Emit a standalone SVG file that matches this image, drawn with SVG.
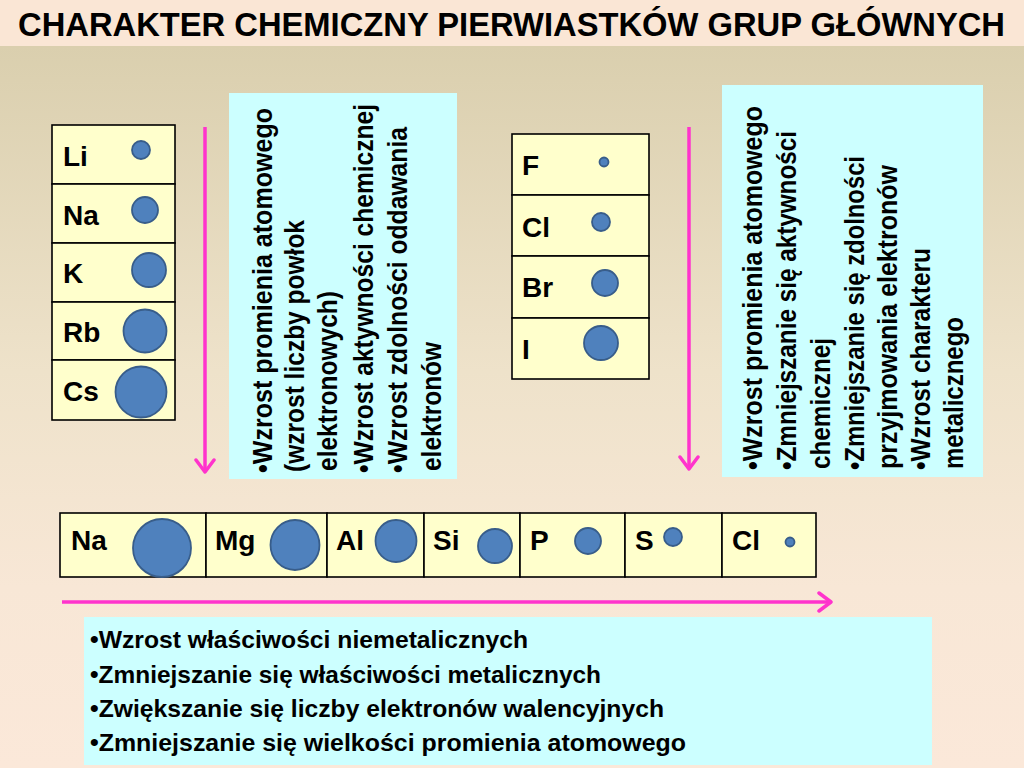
<svg xmlns="http://www.w3.org/2000/svg" width="1024" height="768" viewBox="0 0 1024 768">
<style>
text{font-family:"Liberation Sans",Arial,sans-serif;font-weight:bold;fill:#000}
.title{font-size:33px}
.lab{font-size:28px}
.vt{font-size:27px}
.bt{font-size:24.5px}
.cell{fill:#ffffcc;stroke:#000;stroke-width:1.6}
.atom{fill:#4f81bd;stroke:#385d8a;stroke-width:1.8}
.box{fill:#ccffff}
.arr{stroke:#ff33cc;stroke-width:3.5;fill:none}
</style>
<defs>
<linearGradient id="bg" x1="0" y1="46" x2="0" y2="768" gradientUnits="userSpaceOnUse">
<stop offset="0" stop-color="#dacfae"/>
<stop offset="0.45" stop-color="#eee2ca"/>
<stop offset="0.75" stop-color="#f8e7d6"/>
<stop offset="1" stop-color="#fbe8d9"/>
</linearGradient>
<marker id="ah" viewBox="0 0 16 22" refX="14" refY="11" markerWidth="16" markerHeight="22" orient="auto" markerUnits="userSpaceOnUse">
<path d="M2,2 L14,11 L2,20" fill="none" stroke="#ff33cc" stroke-width="3.5" stroke-linecap="round" stroke-linejoin="round"/>
</marker>
</defs>
<rect x="0" y="0" width="1024" height="768" fill="url(#bg)"/>
<rect x="0" y="0" width="1024" height="46" fill="#fae6d5"/>
<text class="title" x="18" y="36" textLength="987" lengthAdjust="spacingAndGlyphs">CHARAKTER CHEMICZNY PIERWIASTKÓW GRUP GŁÓWNYCH</text>

<g id="connectors">
<path class="arr" d="M205,127 L205,472" marker-end="url(#ah)"/>
<path class="arr" d="M689,127 L689,469" marker-end="url(#ah)"/>
<path class="arr" d="M62,602 L831,602" marker-end="url(#ah)"/>
</g>

<g id="group1-table">
<g id="li"><rect class="cell" x="52" y="125" width="123" height="59"/><text class="lab" x="63" y="166">Li</text><circle class="atom" cx="141" cy="150" r="9"/></g>
<g id="na"><rect class="cell" x="52" y="184" width="123" height="59"/><text class="lab" x="63" y="225">Na</text><circle class="atom" cx="145" cy="210" r="13"/></g>
<g id="k"><rect class="cell" x="52" y="243" width="123" height="59"/><text class="lab" x="63" y="283">K</text><circle class="atom" cx="149" cy="270" r="17"/></g>
<g id="rb"><rect class="cell" x="52" y="302" width="123" height="58"/><text class="lab" x="63" y="342">Rb</text><circle class="atom" cx="145" cy="331" r="21.5"/></g>
<g id="cs"><rect class="cell" x="52" y="360" width="123" height="60"/><text class="lab" x="63" y="401">Cs</text><circle class="atom" cx="141" cy="392" r="25.5"/></g>
</g>

<g id="group1-box">
<rect class="box" x="229" y="93" width="228" height="386"/>
<text class="vt" transform="translate(272,473) rotate(-90)" textLength="365" lengthAdjust="spacingAndGlyphs">•Wzrost promienia atomowego</text>
<text class="vt" transform="translate(304,472) rotate(-90)" textLength="252" lengthAdjust="spacingAndGlyphs">(wzrost liczby powłok</text>
<text class="vt" transform="translate(337,471) rotate(-90)" textLength="180" lengthAdjust="spacingAndGlyphs">elektronowych)</text>
<text class="vt" transform="translate(373,473) rotate(-90)" textLength="369" lengthAdjust="spacingAndGlyphs">•Wzrost aktywności chemicznej</text>
<text class="vt" transform="translate(407,473) rotate(-90)" textLength="346" lengthAdjust="spacingAndGlyphs">•Wzrost zdolności oddawania</text>
<text class="vt" transform="translate(441,471) rotate(-90)" textLength="129" lengthAdjust="spacingAndGlyphs">elektronów</text>
</g>

<g id="group17-table">
<g id="f"><rect class="cell" x="512" y="134" width="137" height="61"/><text class="lab" x="522" y="175">F</text><circle class="atom" cx="604" cy="162" r="4.5"/></g>
<g id="cl"><rect class="cell" x="512" y="195" width="137" height="61"/><text class="lab" x="522" y="237">Cl</text><circle class="atom" cx="601" cy="222" r="9"/></g>
<g id="br"><rect class="cell" x="512" y="256" width="137" height="62"/><text class="lab" x="522" y="297">Br</text><circle class="atom" cx="605" cy="283" r="13"/></g>
<g id="i"><rect class="cell" x="512" y="318" width="137" height="61"/><text class="lab" x="522" y="359">I</text><circle class="atom" cx="601" cy="343" r="17"/></g>
</g>

<g id="group17-box">
<rect class="box" x="722" y="85" width="261" height="392"/>
<text class="vt" transform="translate(762,470) rotate(-90)" textLength="364" lengthAdjust="spacingAndGlyphs">•Wzrost promienia  atomowego</text>
<text class="vt" transform="translate(796,470) rotate(-90)" textLength="339" lengthAdjust="spacingAndGlyphs">•Zmniejszanie się aktywności</text>
<text class="vt" transform="translate(830,469) rotate(-90)" textLength="131" lengthAdjust="spacingAndGlyphs">chemicznej</text>
<text class="vt" transform="translate(864,470) rotate(-90)" textLength="314" lengthAdjust="spacingAndGlyphs">•Zmniejszanie się zdolności</text>
<text class="vt" transform="translate(897,469) rotate(-90)" textLength="304" lengthAdjust="spacingAndGlyphs">przyjmowania elektronów</text>
<text class="vt" transform="translate(930,470) rotate(-90)" textLength="222" lengthAdjust="spacingAndGlyphs">•Wzrost charakteru</text>
<text class="vt" transform="translate(963,469) rotate(-90)" textLength="152" lengthAdjust="spacingAndGlyphs">metalicznego</text>
</g>

<g id="period3-table">
<g id="p-na"><rect class="cell" x="60" y="513" width="146" height="64"/><text class="lab" x="71" y="550">Na</text><ellipse class="atom" cx="162" cy="548" rx="29" ry="29"/></g>
<g id="p-mg"><rect class="cell" x="206" y="513" width="121" height="64"/><text class="lab" x="215" y="550">Mg</text><ellipse class="atom" cx="295" cy="545" rx="24.5" ry="25"/></g>
<g id="p-al"><rect class="cell" x="327" y="513" width="97" height="64"/><text class="lab" x="336" y="550">Al</text><ellipse class="atom" cx="396" cy="541" rx="20.5" ry="21"/></g>
<g id="p-si"><rect class="cell" x="424" y="513" width="96" height="64"/><text class="lab" x="433" y="550">Si</text><circle class="atom" cx="495" cy="546" r="17"/></g>
<g id="p-p"><rect class="cell" x="520" y="513" width="105" height="64"/><text class="lab" x="530" y="550">P</text><circle class="atom" cx="588" cy="541" r="13"/></g>
<g id="p-s"><rect class="cell" x="625" y="513" width="97" height="64"/><text class="lab" x="635" y="550">S</text><circle class="atom" cx="673" cy="537" r="9"/></g>
<g id="p-cl"><rect class="cell" x="722" y="513" width="94" height="64"/><text class="lab" x="732" y="550">Cl</text><circle class="atom" cx="790" cy="542" r="4.5"/></g>
</g>

<g id="period3-box">
<rect class="box" x="84" y="617" width="848" height="148"/>
<text class="bt" x="90" y="648" textLength="438" lengthAdjust="spacingAndGlyphs">•Wzrost właściwości niemetalicznych</text>
<text class="bt" x="90" y="683" textLength="511" lengthAdjust="spacingAndGlyphs">•Zmniejszanie się właściwości metalicznych</text>
<text class="bt" x="90" y="717" textLength="574" lengthAdjust="spacingAndGlyphs">•Zwiększanie się liczby elektronów walencyjnych</text>
<text class="bt" x="90" y="751" textLength="596" lengthAdjust="spacingAndGlyphs">•Zmniejszanie się wielkości promienia atomowego</text>
</g>
</svg>
